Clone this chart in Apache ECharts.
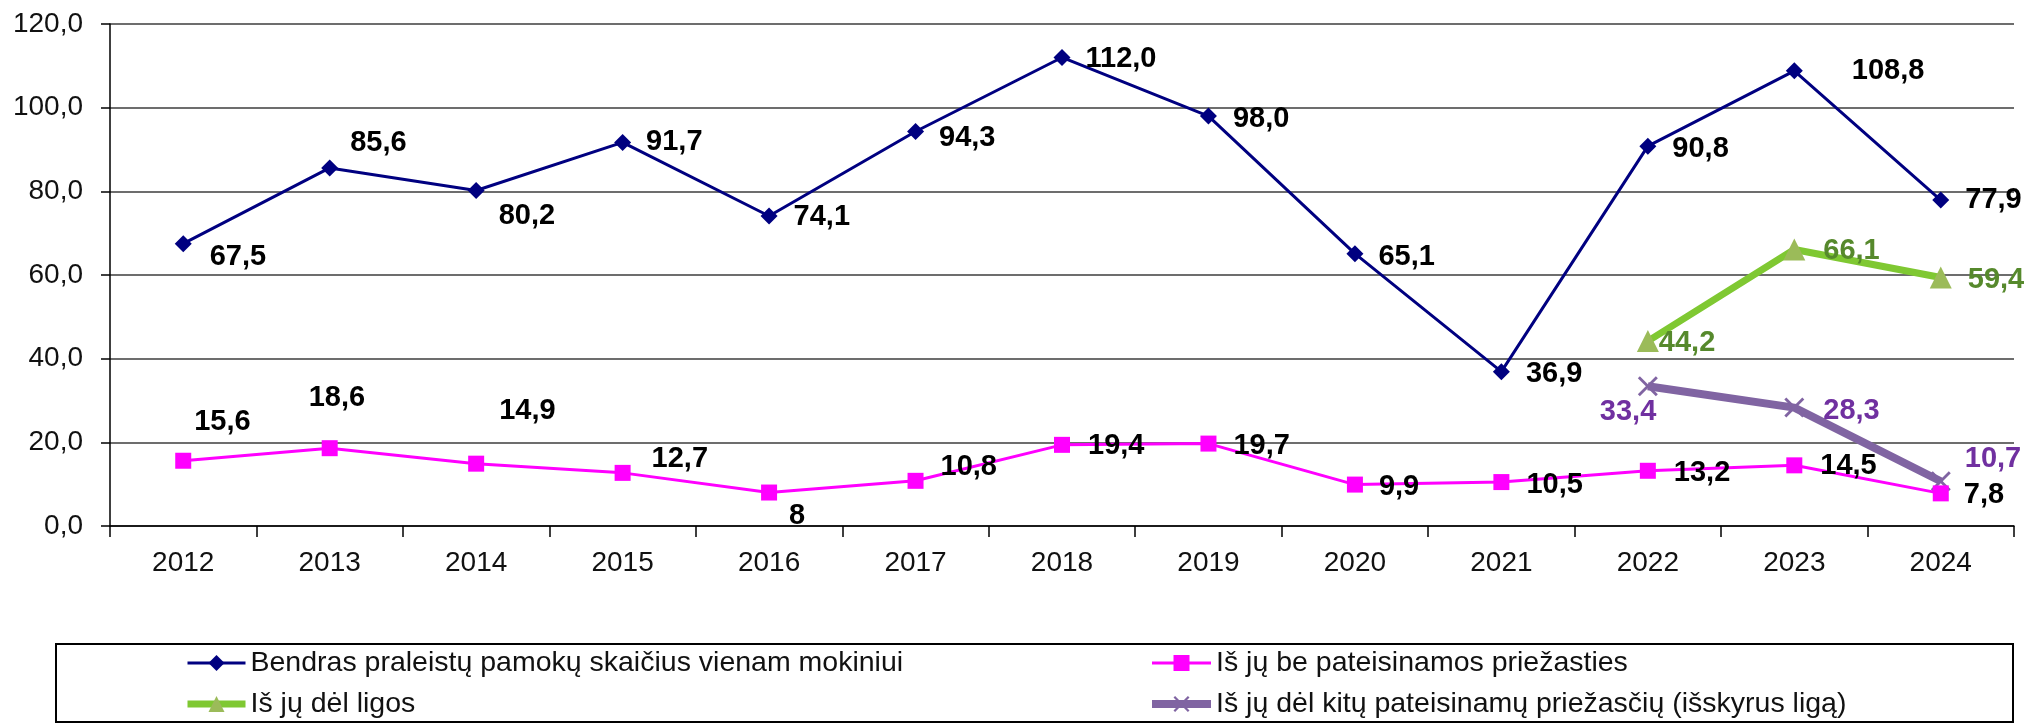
<!DOCTYPE html>
<html>
<head>
<meta charset="utf-8">
<script src="https://cdn.jsdelivr.net/npm/echarts@6/dist/echarts.min.js"></script>
<style>
  html, body { margin: 0; padding: 0; background: #fff; }
  #chart { width: 2038px; height: 724px; }
</style>
</head>
<body>
<div id="chart"></div>
<script>
// data
const years = ['2012', '2013', '2014', '2015', '2016', '2017', '2018', '2019', '2020', '2021', '2022', '2023', '2024'];
const totalMissed = [67.5, 85.6, 80.2, 91.7, 74.1, 94.3, 112.0, 98.0, 65.1, 36.9, 90.8, 108.8, 77.9];
const unexcused = [15.6, 18.6, 14.9, 12.7, 8, 10.8, 19.4, 19.7, 9.9, 10.5, 13.2, 14.5, 7.8];
const recentYears = ['2022', '2023', '2024'];
const illness = [44.2, 66.1, 59.4];
const otherExcused = [33.4, 28.3, 10.7];
const seriesNames = [
    'Bendras praleistų pamokų skaičius vienam mokiniui',
    'Iš jų be pateisinamos priežasties',
    'Iš jų dėl ligos',
    'Iš jų dėl kitų pateisinamų priežasčių (išskyrus ligą)'
];

const FONT = '"Liberation Sans", Arial, sans-serif';

// small nudges for the labels that Excel had moved by hand
const blueNudge = [[2, 13], [-4, -25], [-2, 26], [-1, 0], [0, 1], [-1, 6], [-1, 2], [0, 3], [-1, 3], [0, 2], [0, 3], [33, 0], [0, 0]];
const pinkNudge = [[-13, -39], [-45, -50], [-1, -53], [5, -14], [-4, 23], [1, -14], [2, 1], [1, 2], [0, 2], [1, 3], [2, 2], [2, 1], [-1, 2]];
const greenNudge = [[-13, 2], [5, 2], [3, 2]];
const purpleNudge = [[-72, 26], [5, 3], [0, -22]];

function comma(v, fixed) {
    return (fixed ? v.toFixed(1) : String(v)).replace('.', ',');
}

// full-length series from the values of a few years
function items(values, valueYears, nudges) {
    return years.map(function (y) {
        const i = valueYears.indexOf(y);
        if (i < 0) return null;
        return { value: values[i], label: { offset: nudges[i] } };
    });
}

const chart = echarts.init(document.getElementById('chart'));

const labelBase = {
    show: true,
    position: 'right',
    fontFamily: FONT,
    fontSize: 29,
    fontWeight: 'bold',
    color: '#000'
};

const legendBase = {
    orient: 'vertical',
    top: 648,
    padding: 0,
    itemHeight: 20,
    itemGap: 11,
    lineStyle: { width: 'inherit' },
    textStyle: { fontFamily: FONT, fontSize: 28.5, lineHeight: 30, color: '#111' }
};

const crossPath = 'path://M0,2 L2,0 L10,8 L18,0 L20,2 L12,10 L20,18 L18,20 L10,12 L2,20 L0,18 L8,10 Z';

const options = {
    animation: false,
    backgroundColor: '#fff',
    grid: {
        left: 110,
        right: 24,
        top: 24,
        bottom: 198,
        containLabel: false,
        outerBoundsMode: 'none'
    },
    legend: [
        Object.assign({}, legendBase, {
            data: [seriesNames[0], seriesNames[2]],
            left: 184,
            itemWidth: 58
        }),
        Object.assign({}, legendBase, {
            data: [seriesNames[1], seriesNames[3]],
            left: 1148,
            itemWidth: 59
        })
    ],
    graphic: [
        {
            type: 'rect',
            shape: { x: 56, y: 644, width: 1957, height: 78 },
            style: { fill: 'none', stroke: '#000', lineWidth: 2 },
            silent: true
        }
    ],
    xAxis: {
        type: 'category',
        data: years,
        boundaryGap: true,
        axisLine: { lineStyle: { color: '#000', width: 1.5 } },
        axisTick: { show: true, length: 11, interval: 0, lineStyle: { color: '#000', width: 1.5 } },
        axisLabel: { fontFamily: FONT, fontSize: 28, color: '#111', margin: 23 },
        splitLine: { show: false }
    },
    yAxis: {
        type: 'value',
        min: 0,
        max: 120,
        interval: 20,
        axisLine: { show: true, lineStyle: { color: '#000', width: 1.5 } },
        axisTick: { show: true, length: 9, lineStyle: { color: '#000', width: 1.5 } },
        axisLabel: {
            fontFamily: FONT,
            fontSize: 28,
            color: '#111',
            margin: 27,
            formatter: function (v) { return comma(v, true); }
        },
        splitLine: { show: true, lineStyle: { color: '#3c3c3c', width: 1.5 } }
    },
    series: [
        {
            name: seriesNames[0],
            type: 'line',
            z: 3,
            data: items(totalMissed, years, blueNudge),
            symbol: 'diamond',
            symbolSize: 17,
            color: '#000080',
            lineStyle: { color: '#000080', width: 3 },
            itemStyle: { color: '#000080' },
            label: Object.assign({}, labelBase, {
                distance: 16,
                formatter: function (p) { return comma(p.value, true); }
            })
        },
        {
            name: seriesNames[1],
            type: 'line',
            z: 6,
            data: items(unexcused, years, pinkNudge),
            symbol: 'rect',
            symbolSize: 16,
            color: '#ff00ff',
            lineStyle: { color: '#ff00ff', width: 3 },
            itemStyle: { color: '#ff00ff' },
            label: Object.assign({}, labelBase, {
                distance: 16,
                formatter: function (p) { return comma(p.value, false); }
            })
        },
        {
            name: seriesNames[2],
            type: 'line',
            z: 4,
            data: items(illness, recentYears, greenNudge),
            symbol: 'triangle',
            symbolSize: 22,
            color: '#7fc832',
            lineStyle: { color: '#7fc832', width: 7 },
            itemStyle: { color: '#9bbb59' },
            label: Object.assign({}, labelBase, {
                distance: 13,
                color: '#56892c',
                formatter: function (p) { return comma(p.value, true); }
            })
        },
        {
            name: seriesNames[3],
            type: 'line',
            z: 5,
            data: items(otherExcused, recentYears, purpleNudge),
            symbol: crossPath,
            symbolSize: 20,
            color: '#8064a2',
            lineStyle: { color: '#8064a2', width: 8 },
            itemStyle: { color: '#8064a2' },
            label: Object.assign({}, labelBase, {
                distance: 14,
                color: '#7030a0',
                formatter: function (p) { return comma(p.value, true); }
            })
        }
    ]
};

chart.setOption(options, true);
</script>
</body>
</html>
